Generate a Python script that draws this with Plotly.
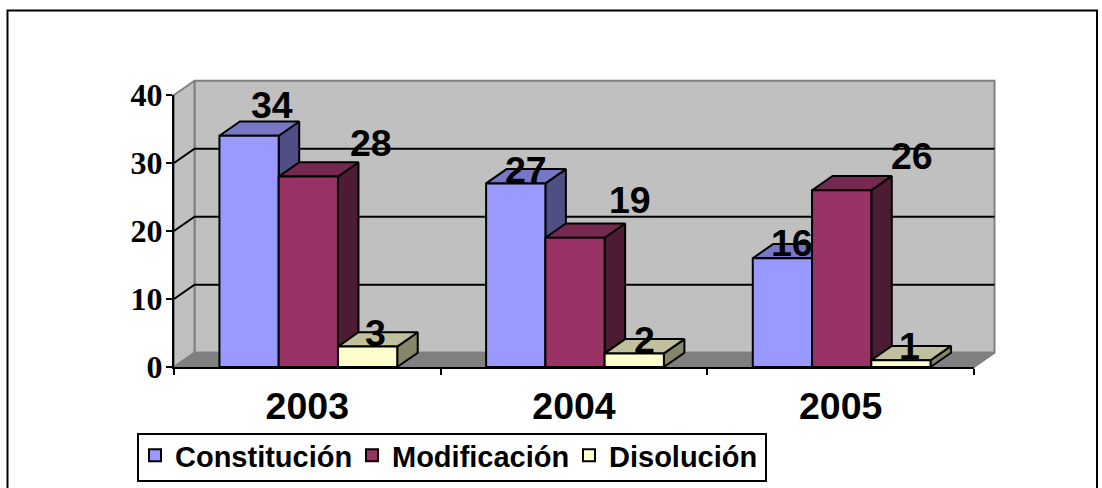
import plotly.graph_objects as go

years = ["2003", "2004", "2005"]
series_names = ["Constitución", "Modificación", "Disolución"]
constitucion = [34, 27, 16]
modificacion = [28, 19, 26]
disolucion = [3, 2, 1]
y_ticks = [0, 10, 20, 30, 40]
front_colors = ["#9999FF", "#993366", "#FFFFCC"]
top_colors = ["#7777C6", "#772850", "#C0C09C"]
side_colors = ["#4F4F85", "#4D1B33", "#85856A"]
label_shift_x = [[23, 10, 10], [63, 55, 70], [8, 10, 9]]
label_shift_y = [[31, 13, 15], [34, 38, 34], [14, 13, 14]]

W, H = 1102, 488
AX_L, AX_R, AX_T, AX_B = 174, 974, 95, 367
PX_X = (AX_R - AX_L) / 3
PX_Y = (AX_B - AX_T) / 40
DX = 20.5 / PX_X
DY = 14.3 / PX_Y
PAD_L, PAD_R, PAD_T, PAD_B = 165, 1005, 70, 375
GAP = 1.5 / 4.5
BW = 1 / 4.5
BAR_SHIFT = 1.0 / PX_X
all_values = [constitucion, modificacion, disolucion]

fig = go.Figure()


def poly(xs, ys, fill, line="#000000", lw=2):
    fig.add_trace(go.Scatter(x=xs, y=ys, mode="lines", fill="toself", fillcolor=fill,
                             line=dict(color=line, width=lw), showlegend=False,
                             hoverinfo="skip", xaxis="x", yaxis="y"))


# walls and floor
poly([DX, DX, 3 + DX, 3 + DX, DX], [DY, 40 + DY, 40 + DY, DY, DY], "#C0C0C0", "#808080")
poly([0, DX, DX, 0, 0], [0, DY, 40 + DY, 40, 0], "#C0C0C0", "#808080")
poly([0, 3, 3 + DX, DX, 0], [0, 0, DY, DY, 0], "#808080", "#808080")
gx, gy = [], []
for v in y_ticks[1:-1]:
    gx += [0, DX, 3 + DX, None]
    gy += [v, v + DY, v + DY, None]
fig.add_trace(go.Scatter(x=gx, y=gy, mode="lines", line=dict(color="#000000", width=2),
                         showlegend=False, hoverinfo="skip", xaxis="x", yaxis="y"))

# side and top faces, drawn below the front faces
for s, vals in enumerate(all_values):
    sx, sy, tx, ty = [], [], [], []
    for c, v in enumerate(vals):
        x0 = c + BAR_SHIFT + GAP / 2 + s * BW
        x1 = x0 + BW
        sx += [x1, x1 + DX, x1 + DX, x1, x1, None]
        sy += [0, DY, v + DY, v, 0, None]
        tx += [x0, x1, x1 + DX, x0 + DX, x0, None]
        ty += [v, v, v + DY, v + DY, v, None]
    poly(sx, sy, side_colors[s])
    poly(tx, ty, top_colors[s])

# front faces
tick_centers = [0.5, 1.5, 2.5]
centers = [c + BAR_SHIFT for c in tick_centers]
for s, vals in enumerate(all_values):
    fig.add_trace(go.Bar(x=centers, y=vals, name=series_names[s], width=BW,
                         marker=dict(color=front_colors[s], line=dict(color="#000000", width=2)),
                         xaxis="x2", yaxis="y2"))

# value labels
for s, vals in enumerate(all_values):
    for c, v in enumerate(vals):
        fig.add_annotation(x=c + BAR_SHIFT + GAP / 2 + (s + 0.5) * BW, y=v, xref="x2", yref="y2", text=str(v),
                           showarrow=False, xanchor="center", yanchor="middle",
                           xshift=label_shift_x[s][c], yshift=label_shift_y[s][c],
                           font=dict(family="Liberation Sans", size=37.5, color="#000000", weight="bold"))

# chart frame
fig.add_shape(type="rect", xref="paper", yref="paper", x0=7.5 / W, x1=1097 / W, y0=-0.05, y1=1 - 10.5 / H,
              line=dict(color="#000000", width=2), fillcolor="rgba(0,0,0,0)", layer="below")
# legend box
fig.add_shape(type="rect", xref="paper", yref="paper", x0=138 / W, x1=766 / W, y0=1 - 481 / H, y1=1 - 434 / H,
              line=dict(color="#000000", width=2), fillcolor="#FFFFFF", layer="below")

fig.update_layout(
    width=W, height=H, margin=dict(l=0, r=0, t=0, b=0, pad=0, autoexpand=False),
    paper_bgcolor="#FFFFFF", plot_bgcolor="rgba(0,0,0,0)",
    barmode="group", bargap=GAP, bargroupgap=0,
    font=dict(family="Liberation Sans", color="#000000"),
    xaxis=dict(domain=[PAD_L / W, PAD_R / W], range=[(PAD_L - AX_L) / PX_X, (PAD_R - AX_L) / PX_X],
               visible=False, fixedrange=True),
    yaxis=dict(domain=[1 - PAD_B / H, 1 - PAD_T / H], range=[(AX_B - PAD_B) / PX_Y, (AX_B - PAD_T) / PX_Y],
               visible=False, fixedrange=True),
    xaxis2=dict(domain=[AX_L / W, AX_R / W], range=[0, 3], anchor="y2", showgrid=False, zeroline=False,
                showline=True, linecolor="#000000", linewidth=2,
                tickmode="array", tickvals=tick_centers, ticktext=years, ticks="",
                tickfont=dict(family="Liberation Sans", size=37.5, weight="bold", color="#000000"),
                ticklabelstandoff=5,
                minor=dict(tickmode="array", tickvals=[0, 1, 2, 3], ticks="outside", ticklen=6,
                           tickwidth=2, tickcolor="#000000", showgrid=False),
                fixedrange=True),
    yaxis2=dict(domain=[1 - AX_B / H, 1 - AX_T / H], range=[0, 40], anchor="x2", showgrid=False, zeroline=False,
                showline=True, linecolor="#000000", linewidth=2,
                tickmode="array", tickvals=y_ticks, ticks="outside", ticklen=6, tickwidth=2,
                tickcolor="#000000", ticklabelstandoff=-3,
                tickfont=dict(family="Liberation Serif", size=32, weight="bold", color="#000000"),
                fixedrange=True),
    legend=dict(orientation="h", x=135 / W, y=1 - 430 / H, xanchor="left", yanchor="top",
                bgcolor="rgba(0,0,0,0)", borderwidth=0, entrywidth=172, entrywidthmode="pixels",
                font=dict(family="Liberation Sans", size=29, weight="bold", color="#000000")),
)

fig.write_html("out.html", config={"displayModeBar": False},
               post_script="document.body.style.margin='0';document.body.style.overflow='hidden';")
